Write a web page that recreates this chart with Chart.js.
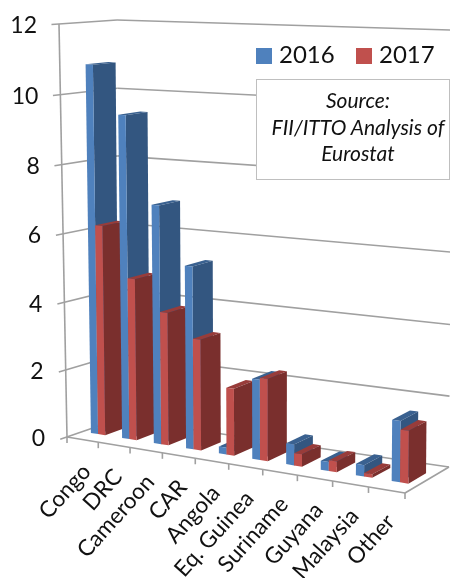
<!DOCTYPE html>
<html>
<head>
<meta charset="UTF-8">
<title>Imports by origin</title>
<script src="https://cdn.jsdelivr.net/npm/chart.js"></script>
<style>
  html, body { margin: 0; padding: 0; background: #fff; overflow: hidden; }
  #wrap { position: relative; width: 450px; height: 578px; overflow: hidden; }
  .legend { position: absolute; top: 39px; font: 24px Lato, sans-serif; color: #111; line-height: 30px; }
  .legend i { display: inline-block; width: 16px; height: 16px; margin-right: 7px; vertical-align: -1px; }
  #source { position: absolute; left: 256px; top: 79px; width: 194px; height: 101px; box-sizing: border-box;
    background: #fff; border: 1.5px solid #bfbfbf; font: italic 21px/26.5px Lato, sans-serif; color: #111; text-align: center; padding: 7px 0 0 10px; white-space: nowrap; }
</style>
</head>
<body>
<div id="wrap">
  <canvas id="chart" width="450" height="578"></canvas>
  <div class="legend" style="left:256px"><i style="background:#4f81bd"></i>2016</div>
  <div class="legend" style="left:356px"><i style="background:#c0504d"></i>2017</div>
  <div id="source">Source:<br>FII/ITTO Analysis of<br>Eurostat</div>
</div>
<script>
const categories = ['Congo', 'DRC', 'Cameroon', 'CAR', 'Angola', 'Eq. Guinea', 'Suriname', 'Guyana', 'Malaysia', 'Other'];
const values2016 = [10.83, 9.45, 6.95, 5.3, 0.2, 2.3, 0.6, 0.25, 0.32, 1.7];
const values2017 = [6.2, 4.75, 3.88, 3.22, 1.94, 2.35, 0.35, 0.3, 0.1, 1.46];

// corners of the 3d box on screen, [depth][value][category]
const box = [
  [[[67, 437], [405, 493]], [[59, 24], [410, 41]]],
  [[[119, 419], [449, 467]], [[117, 20], [452, 30]]]
];
const depthFront = 0.3, depthBack = 0.7;
const lineColor = '#a0a0a0';
const faces = {
  '2016': { front: '#4f81bd', side: '#335680', top: '#3a6190' },
  '2017': { front: '#c0504d', side: '#7a2f2d', top: '#983c3a' }
};

function mix(a, b, t) { return [a[0] + (b[0] - a[0]) * t, a[1] + (b[1] - a[1]) * t]; }

// foreshortening along an axis
function warp(t, w) { return t / (t + w * (1 - t)); }

// u along categories, v up the value axis, d into the page, all 0..1
function project(u, v, d) {
  const s = warp(u, 1.09); // right side is closer to the viewer
  const h = warp(v, 1.033); // and so is the top
  const f = mix(mix(box[0][0][0], box[0][0][1], s), mix(box[0][1][0], box[0][1][1], s), h);
  const b = mix(mix(box[1][0][0], box[1][0][1], s), mix(box[1][1][0], box[1][1][1], s), h);
  return mix(f, b, d);
}

function quad(ctx, pts, color) {
  ctx.fillStyle = color;
  ctx.beginPath();
  pts.forEach((p, i) => i ? ctx.lineTo(p[0], p[1]) : ctx.moveTo(p[0], p[1]));
  ctx.closePath();
  ctx.fill();
}

function seg(ctx, a, b) {
  ctx.beginPath();
  ctx.moveTo(a[0], a[1]);
  ctx.lineTo(b[0], b[1]);
  ctx.stroke();
}

const perspective = {
  id: 'perspective',
  beforeDatasetsDraw(chart) {
    const ctx = chart.ctx, area = chart.chartArea;
    const xs = chart.scales.x, ys = chart.scales.y;
    const U = px => (px - area.left) / (area.right - area.left);
    const V = py => (area.bottom - py) / (area.bottom - area.top);

    ctx.save();
    ctx.strokeStyle = lineColor;
    ctx.lineWidth = 1.6;

    // walls and value ticks
    ys.ticks.forEach(t => {
      const v = V(ys.getPixelForValue(t.value));
      seg(ctx, project(0, v, -0.13), project(0, v, 1));
      seg(ctx, project(0, v, 1), project(1, v, 1));
    });
    seg(ctx, project(0, 0, 0), project(0, 1, 0));
    // floor
    seg(ctx, project(0, 0, 0), project(1, 0, 0));
    seg(ctx, project(1, 0, 0), project(1, 0, 1));
    // category ticks on the front edge
    for (let i = 0; i <= categories.length; i++) {
      const p = project(i / categories.length, 0, 0);
      seg(ctx, p, [p[0], p[1] + 6]);
    }

    // bars, left to right because the right side is nearer
    categories.forEach((c, i) => {
      chart.data.datasets.forEach((ds, k) => {
        const bar = chart.getDatasetMeta(k).data[i];
        const col = faces[ds.label];
        const l = U(bar.x - bar.width / 2), r = U(bar.x + bar.width / 2);
        const t = V(bar.y), b = V(bar.base);
        const d0 = depthFront, d1 = depthBack;
        quad(ctx, [project(l, t, d0), project(r, t, d0), project(r, t, d1), project(l, t, d1)], col.top);
        quad(ctx, [project(r, b, d0), project(r, t, d0), project(r, t, d1), project(r, b, d1)], col.side);
        quad(ctx, [project(l, b, d0), project(r, b, d0), project(r, t, d0), project(l, t, d0)], col.front);
      });
    });

    // tick labels
    ctx.fillStyle = '#111';
    ctx.font = '23px Lato, sans-serif';
    ctx.textAlign = 'right';
    ctx.textBaseline = 'middle';
    ys.ticks.forEach(t => {
      const p = project(0, V(ys.getPixelForValue(t.value)), 0);
      ctx.fillText(t.label, p[0] - 22, p[1] + 2);
    });
    ctx.font = '22.5px Lato, sans-serif';
    categories.forEach((c, i) => {
      const p = project(U(xs.getPixelForValue(i)), 0, 0);
      ctx.save();
      ctx.translate(p[0] + 4, p[1] + 28);
      ctx.rotate(-48 * Math.PI / 180);
      ctx.fillText(c, 0, 0);
      ctx.restore();
    });
    ctx.restore();
    return false;
  }
};

new Chart(document.getElementById('chart'), {
  type: 'bar',
  data: {
    labels: categories,
    datasets: [
      { label: '2016', data: values2016, backgroundColor: faces['2016'].front },
      { label: '2017', data: values2017, backgroundColor: faces['2017'].front }
    ]
  },
  options: {
    responsive: false,
    animation: false,
    categoryPercentage: 0.46,
    barPercentage: 1,
    plugins: { legend: { display: false }, tooltip: { enabled: false } },
    scales: {
      x: { ticks: { display: false }, grid: { display: false }, border: { display: false } },
      y: { min: 0, max: 12, ticks: { stepSize: 2, display: false }, grid: { display: false }, border: { display: false } }
    }
  },
  plugins: [perspective]
});
</script>
</body>
</html>
